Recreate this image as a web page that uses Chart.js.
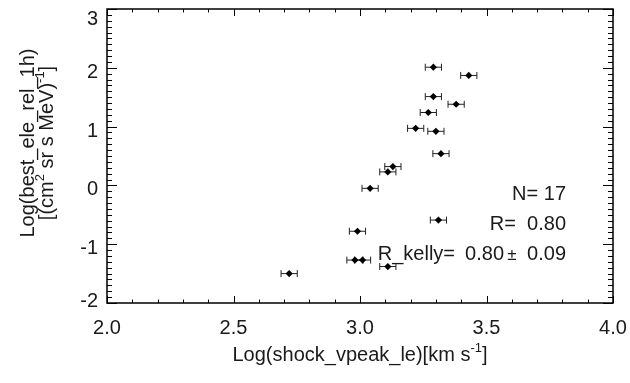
<!DOCTYPE html>
<html>
<head>
<meta charset="utf-8">
<script src="https://cdn.jsdelivr.net/npm/chart.js@4.4.1/dist/chart.umd.min.js"></script>
<style>
  html, body { margin: 0; padding: 0; background: #fff; }
</style>
</head>
<body>
<canvas id="scatter" width="630" height="383"></canvas>
<script>
// log shock speed vs log electron intensity, one entry per event
var logSpeed = [3.29, 3.43, 3.29, 3.38, 3.27, 3.22, 3.30, 3.32, 3.13, 3.11, 3.04, 3.31, 2.99, 2.98, 3.01, 3.11, 2.72];
var logFlux  = [2.01, 1.87, 1.51, 1.38, 1.24, 0.97, 0.92, 0.54, 0.32, 0.23, -0.05, -0.59, -0.78, -1.27, -1.27, -1.38, -1.50];
var speedErr = [0.032, 0.032, 0.032, 0.032, 0.032, 0.032, 0.032, 0.032, 0.032, 0.032, 0.032, 0.032, 0.032, 0.032, 0.032, 0.032, 0.032];

var xTicks = [2.0, 2.5, 3.0, 3.5, 4.0];
var yTicks = [-2, -1, 0, 1, 2, 3];
var statLines = ["N= 17", "R=  0.80"];
var kelly = ["R_kelly=", "0.80", "\u00b1", "0.09"];

var FONT = "'Liberation Sans', Arial, sans-serif";
var INK = '#1a1a1a';
var BIG = 20, SMALL = 13;

var points = logSpeed.map(function (x, i) { return { x: x, y: logFlux[i] }; });

// draw text made of [text, isSuperscript] pieces starting at x
function drawPieces(ctx, pieces, x, y) {
  pieces.forEach(function (p) {
    ctx.font = (p[1] ? SMALL : BIG) + 'px ' + FONT;
    ctx.fillText(p[0], x, p[1] ? y - 9 : y);
    x += ctx.measureText(p[0]).width;
  });
}
function piecesWidth(ctx, pieces) {
  var w = 0;
  pieces.forEach(function (p) {
    ctx.font = (p[1] ? SMALL : BIG) + 'px ' + FONT;
    w += ctx.measureText(p[0]).width;
  });
  return w;
}

var idlFrame = {
  id: 'idlFrame',
  beforeDatasetsDraw: function (chart) {
    var ctx = chart.ctx, xs = chart.scales.x, ys = chart.scales.y;
    ctx.save();
    ctx.strokeStyle = '#222';
    ctx.lineWidth = 1;
    points.forEach(function (p, i) {
      var x0 = xs.getPixelForValue(p.x - speedErr[i]);
      var x1 = xs.getPixelForValue(p.x + speedErr[i]);
      var y = ys.getPixelForValue(p.y);
      ctx.beginPath();
      ctx.moveTo(x0, y); ctx.lineTo(x1, y);
      ctx.moveTo(x0, y - 3.5); ctx.lineTo(x0, y + 3.5);
      ctx.moveTo(x1, y - 3.5); ctx.lineTo(x1, y + 3.5);
      ctx.stroke();
    });
    ctx.restore();
  },
  afterDraw: function (chart) {
    var ctx = chart.ctx, a = chart.chartArea, xs = chart.scales.x, ys = chart.scales.y;
    ctx.save();
    ctx.strokeStyle = '#000';
    ctx.lineWidth = 1.5;
    ctx.strokeRect(a.left, a.top, a.right - a.left, a.bottom - a.top);

    // inward ticks on all four sides
    ctx.lineWidth = 1;
    ctx.beginPath();
    for (var i = 0; i <= 20; i++) {
      var vx = xs.min + i * 0.1;
      var px = Math.round(xs.getPixelForValue(vx)) + 0.5;
      var lx = (i % 5 === 0) ? 7 : 3.5;
      ctx.moveTo(px, a.bottom); ctx.lineTo(px, a.bottom - lx);
      ctx.moveTo(px, a.top); ctx.lineTo(px, a.top + lx);
    }
    for (var j = 0; j <= 50; j++) {
      var vy = ys.min + j * 0.1;
      var py = Math.round(ys.getPixelForValue(vy)) + 0.5;
      var ly = (j % 10 === 0) ? 10 : 5;
      ctx.moveTo(a.left, py); ctx.lineTo(a.left + ly, py);
      ctx.moveTo(a.right, py); ctx.lineTo(a.right - ly, py);
    }
    ctx.stroke();

    ctx.fillStyle = INK;

    // y tick labels, kept inside the frame at both ends
    ctx.font = BIG + 'px ' + FONT;
    ctx.textAlign = 'right';
    ctx.textBaseline = 'middle';
    yTicks.forEach(function (v) {
      var y = ys.getPixelForValue(v) + 4.5;
      y = Math.min(Math.max(y, a.top + 10), a.bottom - 2);
      ctx.fillText(String(v), a.left - 9, y);
    });

    ctx.textAlign = 'left';
    ctx.textBaseline = 'alphabetic';

    // x axis title
    var xt = [['Log(shock_vpeak_le)[km s', false], ['-1', true], [']', false]];
    var cx = (a.left + a.right) / 2;
    drawPieces(ctx, xt, cx - piecesWidth(ctx, xt) / 2, 361);

    // y axis title, two rotated lines
    ctx.save();
    ctx.rotate(-Math.PI / 2);
    var l1 = [['Log(best_ele_rel_1h)', false]];
    var l2 = [['[(cm', false], ['2', true], [' sr s MeV)', false], ['-1', true], [']', false]];
    var cy = 143;
    drawPieces(ctx, l1, -cy - piecesWidth(ctx, l1) / 2, 34);
    drawPieces(ctx, l2, -cy - piecesWidth(ctx, l2) / 2, 53);
    ctx.restore();

    // fit statistics, right-aligned block
    var rx = 566;
    ctx.font = BIG + 'px ' + FONT;
    ctx.textAlign = 'right';
    ctx.fillText(statLines[0], rx, 200);
    ctx.fillText(statLines[1], rx, 230);
    ctx.fillText(kelly[3], rx, 260);
    ctx.fillText(kelly[1], rx - 62, 260);
    ctx.fillText(kelly[0], rx - 111, 260);
    ctx.textAlign = 'center';
    ctx.font = '17px ' + FONT;
    ctx.fillText(kelly[2], rx - 54, 260);
    ctx.restore();
  }
};

function noPad(s) {
  s.paddingTop = 0; s.paddingBottom = 0; s.paddingLeft = 0; s.paddingRight = 0;
}

new Chart(document.getElementById('scatter'), {
  type: 'scatter',
  data: {
    datasets: [{
      data: points,
      pointStyle: 'rectRot',
      pointRadius: 3.6,
      pointHoverRadius: 3.6,
      backgroundColor: '#000',
      borderColor: '#000',
      borderWidth: 0
    }]
  },
  options: {
    responsive: false,
    devicePixelRatio: 1,
    animation: false,
    layout: { padding: { left: 0, top: 9, right: 17, bottom: 0 } },
    plugins: { legend: { display: false }, tooltip: { enabled: false } },
    scales: {
      x: {
        type: 'linear', min: 2, max: 4,
        afterBuildTicks: function (s) { s.ticks = xTicks.map(function (v) { return { value: v }; }); },
        ticks: {
          callback: function (v) { return v.toFixed(1); },
          font: { family: FONT, size: BIG }, color: INK, padding: 13, maxRotation: 0
        },
        grid: { display: false, drawTicks: false },
        border: { display: false },
        afterFit: function (s) { s.height = 80; noPad(s); }
      },
      y: {
        type: 'linear', min: -2, max: 3,
        afterBuildTicks: function (s) { s.ticks = yTicks.map(function (v) { return { value: v }; }); },
        ticks: { display: false },
        grid: { display: false, drawTicks: false },
        border: { display: false },
        afterFit: function (s) { s.width = 107; noPad(s); }
      }
    }
  },
  plugins: [idlFrame]
});
</script>
</body>
</html>
